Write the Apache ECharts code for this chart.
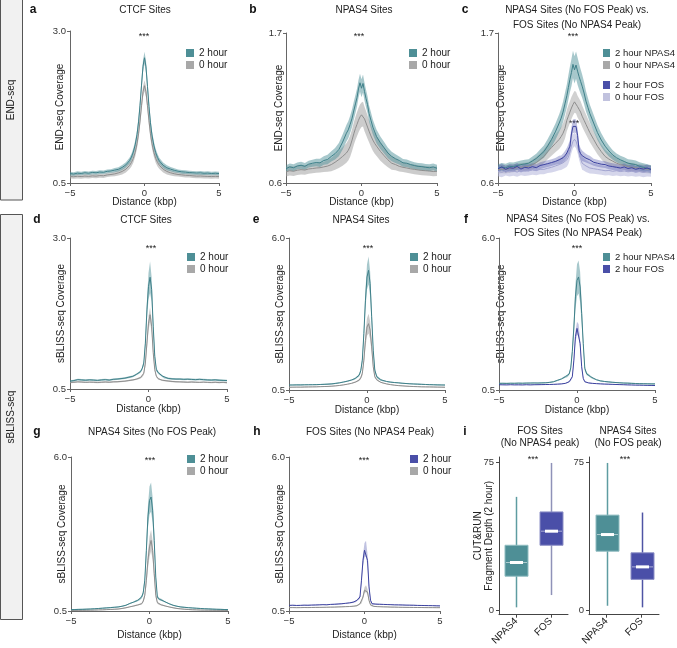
<!DOCTYPE html>
<html><head><meta charset="utf-8">
<script src="https://cdn.jsdelivr.net/npm/echarts@6/dist/echarts.min.js"></script>
<style>html,body{margin:0;padding:0;background:#fff}#c{width:677px;height:648px}</style>
</head><body><div id="c"></div>
<script>
// ---------- shared x positions (kbp) ----------
const X = [-5,-4.75,-4.5,-4.25,-4,-3.75,-3.5,-3.25,-3,-2.75,-2.5,-2.25,-2,-1.75,-1.5,-1.25,-1,
  -0.875,-0.75,-0.625,-0.5,-0.4,-0.3,-0.2,-0.1,0,0.1,0.2,0.3,0.4,0.5,0.625,0.75,0.875,
  1,1.25,1.5,1.75,2,2.25,2.5,2.75,3,3.25,3.5,3.75,4,4.25,4.5,4.75,5];
const X_TICKS = [-5, 0, 5];
const Y_TICKS_A = [0.5, 3.0], Y_TICKS_BC = [0.6, 1.7], Y_TICKS_D = [0.5, 3.0], Y_TICKS_EFGH = [0.5, 6.0];
const Y_TICKS_BOX = [0, 75];

// ---------- a: END-seq, CTCF ----------
const A_2H = [0.655,0.648,0.662,0.657,0.668,0.661,0.673,0.668,0.680,0.676,0.692,0.698,0.712,0.725,0.755,0.798,0.870,
  0.928,1.010,1.128,1.300,1.505,1.780,2.110,2.420,2.560,2.410,2.090,1.760,1.490,1.290,1.120,1.000,0.920,
  0.862,0.792,0.750,0.728,0.708,0.694,0.684,0.679,0.672,0.668,0.664,0.667,0.660,0.663,0.656,0.661,0.655];
const A_2H_SE = [0.03,0.03,0.03,0.03,0.03,0.03,0.03,0.03,0.03,0.03,0.03,0.03,0.035,0.035,0.04,0.045,0.05,
  0.055,0.06,0.065,0.07,0.08,0.09,0.1,0.1,0.1,0.1,0.1,0.09,0.08,0.07,0.065,0.06,0.055,
  0.05,0.045,0.04,0.035,0.035,0.03,0.03,0.03,0.03,0.03,0.03,0.03,0.03,0.03,0.03,0.03,0.03];
const A_0H = [0.607,0.603,0.611,0.606,0.614,0.609,0.617,0.613,0.622,0.619,0.633,0.640,0.650,0.667,0.690,0.727,0.790,
  0.838,0.905,1.005,1.150,1.310,1.520,1.770,2.000,2.100,2.000,1.775,1.525,1.310,1.150,1.005,0.905,0.838,
  0.790,0.727,0.690,0.668,0.652,0.640,0.634,0.627,0.624,0.618,0.613,0.615,0.611,0.608,0.606,0.609,0.605];
const A_0H_SE = [0.035,0.035,0.035,0.035,0.035,0.035,0.035,0.035,0.035,0.035,0.035,0.035,0.04,0.045,0.05,0.055,0.06,
  0.065,0.07,0.075,0.08,0.085,0.09,0.09,0.09,0.09,0.09,0.09,0.09,0.085,0.08,0.075,0.07,0.065,
  0.06,0.055,0.05,0.045,0.04,0.035,0.035,0.035,0.035,0.035,0.035,0.035,0.035,0.035,0.035,0.035,0.035];

// ---------- b: END-seq, NPAS4 ----------
const B_2H = [0.705,0.718,0.712,0.725,0.730,0.722,0.738,0.745,0.750,0.748,0.765,0.772,0.795,0.815,0.845,0.900,0.965,
  0.990,1.030,1.075,1.135,1.180,1.225,1.290,1.335,1.295,1.330,1.270,1.220,1.175,1.110,1.060,1.010,0.975,
  0.940,0.895,0.858,0.820,0.795,0.778,0.765,0.748,0.745,0.735,0.728,0.722,0.720,0.715,0.712,0.718,0.708];
const B_2H_SE = [0.025,0.025,0.025,0.025,0.025,0.025,0.025,0.025,0.028,0.03,0.032,0.035,0.038,0.042,0.048,0.055,0.06,
  0.062,0.064,0.065,0.066,0.066,0.066,0.066,0.066,0.066,0.066,0.066,0.064,0.062,0.06,0.058,0.055,0.052,
  0.05,0.046,0.042,0.038,0.035,0.032,0.03,0.028,0.027,0.026,0.025,0.025,0.025,0.025,0.025,0.025,0.025];
const B_0H = [0.683,0.690,0.686,0.694,0.698,0.695,0.703,0.706,0.710,0.712,0.718,0.724,0.735,0.752,0.772,0.795,0.820,
  0.840,0.870,0.915,0.965,1.000,1.030,1.060,1.085,1.100,1.105,1.070,1.040,1.010,0.980,0.945,0.915,0.890,
  0.870,0.832,0.800,0.770,0.745,0.735,0.722,0.715,0.710,0.704,0.700,0.696,0.692,0.690,0.688,0.684,0.686];
const B_0H_SE = [0.035,0.035,0.035,0.035,0.035,0.035,0.035,0.035,0.035,0.035,0.038,0.042,0.048,0.055,0.062,0.068,0.072,
  0.075,0.078,0.08,0.082,0.085,0.088,0.09,0.09,0.09,0.09,0.09,0.088,0.085,0.082,0.08,0.078,0.075,
  0.072,0.068,0.062,0.055,0.048,0.042,0.038,0.035,0.035,0.035,0.035,0.035,0.035,0.035,0.035,0.035,0.035];

// ---------- c: END-seq, NPAS4 (no FOS) vs FOS (no NPAS4) ----------
const C_2H_NPAS4 = [0.708,0.716,0.712,0.722,0.720,0.728,0.735,0.740,0.745,0.762,0.780,0.805,0.830,0.872,0.920,0.975,1.040,
  1.075,1.120,1.180,1.240,1.300,1.360,1.410,1.470,1.430,1.465,1.420,1.380,1.345,1.310,1.260,1.200,1.155,
  1.110,1.040,0.970,0.915,0.870,0.835,0.805,0.785,0.770,0.758,0.745,0.740,0.735,0.722,0.715,0.708,0.700];
const C_2H_NPAS4_SE = [0.03,0.03,0.03,0.03,0.03,0.03,0.03,0.03,0.03,0.032,0.035,0.04,0.045,0.05,0.055,0.06,0.065,
  0.07,0.075,0.08,0.085,0.09,0.095,0.1,0.1,0.1,0.1,0.1,0.095,0.09,0.085,0.08,0.075,0.07,
  0.065,0.06,0.055,0.05,0.045,0.04,0.035,0.032,0.03,0.03,0.03,0.03,0.03,0.03,0.03,0.03,0.03];
const C_0H_NPAS4 = [0.698,0.702,0.700,0.706,0.708,0.712,0.716,0.718,0.722,0.735,0.750,0.772,0.795,0.830,0.860,0.890,0.920,
  0.940,0.965,1.000,1.060,1.090,1.120,1.150,1.175,1.195,1.190,1.160,1.140,1.120,1.090,1.060,1.030,1.000,
  0.970,0.920,0.870,0.830,0.795,0.775,0.760,0.745,0.735,0.728,0.720,0.715,0.712,0.708,0.705,0.702,0.700];
const C_0H_NPAS4_SE = [0.03,0.03,0.03,0.03,0.03,0.03,0.03,0.03,0.03,0.035,0.04,0.045,0.05,0.055,0.06,0.065,0.07,
  0.072,0.074,0.076,0.078,0.08,0.08,0.08,0.08,0.08,0.08,0.08,0.08,0.08,0.078,0.076,0.074,0.072,
  0.07,0.065,0.06,0.055,0.05,0.045,0.04,0.035,0.03,0.03,0.03,0.03,0.03,0.03,0.03,0.03,0.03];
const C_2H_FOS = [0.705,0.718,0.700,0.712,0.708,0.722,0.702,0.715,0.710,0.720,0.712,0.728,0.735,0.742,0.750,0.758,0.770,
  0.772,0.785,0.800,0.820,0.845,0.870,0.960,1.015,1.020,1.015,0.950,0.840,0.815,0.800,0.790,0.782,0.775,
  0.770,0.752,0.745,0.738,0.735,0.725,0.720,0.715,0.710,0.718,0.706,0.712,0.700,0.708,0.702,0.710,0.700];
const C_2H_FOS_SE = [0.025,0.025,0.025,0.025,0.025,0.025,0.025,0.025,0.025,0.025,0.025,0.025,0.025,0.025,0.025,0.025,0.03,
  0.03,0.032,0.035,0.038,0.04,0.045,0.05,0.05,0.05,0.05,0.05,0.045,0.04,0.038,0.035,0.032,0.03,
  0.03,0.025,0.025,0.025,0.025,0.025,0.025,0.025,0.025,0.025,0.025,0.025,0.025,0.025,0.025,0.025,0.025];
const C_0H_FOS = [0.685,0.678,0.690,0.682,0.688,0.680,0.692,0.686,0.690,0.695,0.692,0.700,0.700,0.708,0.715,0.725,0.735,
  0.740,0.748,0.758,0.770,0.790,0.825,0.870,0.905,0.920,0.905,0.870,0.820,0.780,0.745,0.735,0.725,0.718,
  0.710,0.705,0.700,0.695,0.690,0.692,0.686,0.690,0.684,0.688,0.682,0.686,0.680,0.684,0.678,0.682,0.680];
const C_0H_FOS_SE = [0.035,0.035,0.035,0.035,0.035,0.035,0.035,0.035,0.035,0.035,0.035,0.035,0.035,0.035,0.038,0.04,0.042,
  0.044,0.046,0.048,0.05,0.05,0.05,0.05,0.05,0.05,0.05,0.05,0.05,0.05,0.048,0.046,0.044,0.042,
  0.04,0.038,0.035,0.035,0.035,0.035,0.035,0.035,0.035,0.035,0.035,0.035,0.035,0.035,0.035,0.035,0.035];

// ---------- d: sBLISS, CTCF ----------
const D_2H = [0.630,0.640,0.655,0.650,0.645,0.652,0.648,0.642,0.650,0.655,0.648,0.660,0.665,0.672,0.680,0.695,0.710,
  0.725,0.745,0.765,0.790,0.840,0.930,1.260,1.810,2.200,2.350,2.150,1.540,1.040,0.820,0.770,0.740,0.715,
  0.690,0.675,0.668,0.665,0.665,0.660,0.662,0.658,0.655,0.660,0.655,0.650,0.648,0.652,0.645,0.642,0.640];
const D_2H_SE = [0.015,0.015,0.015,0.015,0.015,0.015,0.015,0.015,0.015,0.015,0.015,0.015,0.015,0.015,0.015,0.015,0.015,
  0.015,0.015,0.018,0.02,0.025,0.04,0.08,0.15,0.22,0.26,0.2,0.12,0.06,0.03,0.02,0.018,0.015,
  0.015,0.015,0.015,0.015,0.015,0.015,0.015,0.015,0.015,0.015,0.015,0.015,0.015,0.015,0.015,0.015,0.015];
const D_0H = [0.608,0.612,0.618,0.615,0.610,0.614,0.612,0.608,0.612,0.616,0.612,0.618,0.620,0.625,0.630,0.640,0.650,
  0.655,0.665,0.675,0.690,0.715,0.760,0.930,1.260,1.590,1.730,1.540,1.100,0.820,0.710,0.670,0.655,0.645,
  0.640,0.632,0.625,0.620,0.618,0.615,0.612,0.616,0.612,0.610,0.614,0.610,0.608,0.612,0.606,0.610,0.605];
const D_0H_SE = [0.012,0.012,0.012,0.012,0.012,0.012,0.012,0.012,0.012,0.012,0.012,0.012,0.012,0.012,0.012,0.012,0.012,
  0.012,0.012,0.014,0.015,0.02,0.03,0.06,0.1,0.12,0.12,0.1,0.06,0.03,0.02,0.015,0.012,0.012,
  0.012,0.012,0.012,0.012,0.012,0.012,0.012,0.012,0.012,0.012,0.012,0.012,0.012,0.012,0.012,0.012,0.012];

// ---------- e: sBLISS, NPAS4 ----------
const E_2H = [0.680,0.682,0.685,0.684,0.688,0.690,0.692,0.695,0.700,0.705,0.712,0.722,0.740,0.760,0.790,0.820,0.860,
  0.880,0.920,0.970,1.040,1.200,1.580,2.550,3.750,4.590,4.830,4.350,3.150,1.940,1.220,0.980,0.920,0.870,
  0.840,0.810,0.785,0.770,0.760,0.745,0.735,0.725,0.718,0.712,0.705,0.700,0.695,0.690,0.686,0.683,0.680];
const E_2H_SE = [0.02,0.02,0.02,0.02,0.02,0.02,0.02,0.02,0.02,0.02,0.02,0.02,0.02,0.02,0.02,0.02,0.02,
  0.03,0.035,0.04,0.05,0.07,0.12,0.22,0.35,0.45,0.5,0.45,0.3,0.15,0.08,0.05,0.04,0.035,
  0.02,0.02,0.02,0.02,0.02,0.02,0.02,0.02,0.02,0.02,0.02,0.02,0.02,0.02,0.02,0.02,0.02];
const E_0H = [0.600,0.602,0.605,0.604,0.608,0.610,0.612,0.615,0.620,0.625,0.630,0.638,0.650,0.665,0.685,0.710,0.740,
  0.760,0.785,0.815,0.860,0.940,1.100,1.580,2.300,2.780,2.900,2.670,2.060,1.340,0.980,0.870,0.820,0.780,
  0.750,0.720,0.695,0.675,0.660,0.650,0.640,0.632,0.625,0.620,0.615,0.612,0.610,0.608,0.605,0.603,0.600];
const E_0H_SE = [0.015,0.015,0.015,0.015,0.015,0.015,0.015,0.015,0.015,0.015,0.015,0.015,0.015,0.015,0.015,0.015,0.015,
  0.02,0.025,0.03,0.035,0.05,0.08,0.15,0.25,0.32,0.36,0.32,0.22,0.1,0.05,0.03,0.025,0.02,
  0.015,0.015,0.015,0.015,0.015,0.015,0.015,0.015,0.015,0.015,0.015,0.015,0.015,0.015,0.015,0.015,0.015];

// ---------- f: sBLISS, NPAS4 (no FOS) vs FOS (no NPAS4) ----------
const F_2H_NPAS4 = [0.740,0.742,0.738,0.745,0.742,0.748,0.745,0.750,0.752,0.755,0.752,0.758,0.762,0.775,0.800,0.850,0.900,
  0.940,0.980,1.000,1.080,1.300,1.900,2.780,3.870,4.470,4.590,4.230,3.270,2.180,1.280,1.080,1.040,0.980,
  0.920,0.870,0.830,0.810,0.795,0.780,0.770,0.760,0.752,0.748,0.740,0.735,0.730,0.728,0.725,0.722,0.720];
const F_2H_NPAS4_SE = [0.02,0.02,0.02,0.02,0.02,0.02,0.02,0.02,0.02,0.02,0.02,0.02,0.02,0.02,0.02,0.02,0.02,
  0.03,0.035,0.04,0.05,0.08,0.15,0.28,0.45,0.58,0.6,0.55,0.38,0.2,0.08,0.05,0.04,0.035,
  0.02,0.02,0.02,0.02,0.02,0.02,0.02,0.02,0.02,0.02,0.02,0.02,0.02,0.02,0.02,0.02,0.02];
const F_2H_FOS = [0.690,0.688,0.685,0.690,0.686,0.688,0.684,0.690,0.686,0.690,0.692,0.695,0.698,0.700,0.705,0.712,0.720,
  0.728,0.740,0.760,0.800,0.860,0.980,1.580,2.430,2.730,2.670,2.180,1.340,0.920,0.800,0.770,0.755,0.745,
  0.740,0.730,0.722,0.715,0.710,0.705,0.700,0.695,0.690,0.685,0.682,0.678,0.675,0.672,0.668,0.665,0.662];
const F_2H_FOS_SE = [0.012,0.012,0.012,0.012,0.012,0.012,0.012,0.012,0.012,0.012,0.012,0.012,0.012,0.012,0.012,0.012,0.012,
  0.015,0.015,0.018,0.02,0.03,0.05,0.1,0.18,0.24,0.22,0.16,0.08,0.04,0.02,0.018,0.015,0.015,
  0.012,0.012,0.012,0.012,0.012,0.012,0.012,0.012,0.012,0.012,0.012,0.012,0.012,0.012,0.012,0.012,0.012];

// ---------- g: sBLISS, NPAS4 (no FOS peak) ----------
const G_2H = [0.548,0.552,0.556,0.560,0.565,0.572,0.580,0.590,0.600,0.610,0.620,0.632,0.645,0.670,0.705,0.770,0.820,
  0.850,0.880,0.920,1.000,1.150,1.600,2.670,3.860,4.450,4.570,4.100,3.020,1.710,1.000,0.920,0.900,0.860,
  0.820,0.760,0.705,0.670,0.645,0.630,0.618,0.608,0.598,0.590,0.582,0.575,0.568,0.562,0.558,0.554,0.550];
const G_2H_SE = [0.02,0.02,0.02,0.02,0.02,0.02,0.02,0.02,0.02,0.02,0.02,0.02,0.02,0.02,0.02,0.02,0.02,
  0.03,0.035,0.04,0.05,0.08,0.15,0.28,0.4,0.5,0.52,0.45,0.32,0.15,0.06,0.04,0.035,0.03,
  0.02,0.02,0.02,0.02,0.02,0.02,0.02,0.02,0.02,0.02,0.02,0.02,0.02,0.02,0.02,0.02,0.02];
const G_0H = [0.520,0.522,0.524,0.526,0.528,0.530,0.534,0.538,0.542,0.548,0.555,0.562,0.570,0.590,0.615,0.650,0.680,
  0.700,0.715,0.735,0.760,0.850,1.060,1.600,2.310,2.790,3.020,2.670,1.830,1.060,0.800,0.740,0.720,0.700,
  0.680,0.645,0.615,0.590,0.575,0.562,0.552,0.545,0.540,0.535,0.532,0.530,0.528,0.526,0.524,0.522,0.520];
const G_0H_SE = [0.015,0.015,0.015,0.015,0.015,0.015,0.015,0.015,0.015,0.015,0.015,0.015,0.015,0.015,0.015,0.015,0.015,
  0.02,0.02,0.025,0.03,0.05,0.1,0.2,0.3,0.36,0.38,0.33,0.22,0.1,0.04,0.025,0.02,0.02,
  0.015,0.015,0.015,0.015,0.015,0.015,0.015,0.015,0.015,0.015,0.015,0.015,0.015,0.015,0.015,0.015,0.015];

// ---------- h: sBLISS, FOS (no NPAS4 peak) ----------
const H_2H = [0.700,0.705,0.698,0.702,0.708,0.705,0.712,0.715,0.720,0.725,0.722,0.735,0.740,0.750,0.760,0.775,0.790,
  0.800,0.815,0.830,0.880,0.930,1.000,1.600,2.310,2.670,2.730,2.310,1.360,0.880,0.760,0.750,0.745,0.742,
  0.740,0.735,0.730,0.725,0.720,0.718,0.715,0.710,0.708,0.705,0.700,0.698,0.695,0.692,0.690,0.686,0.682];
const H_2H_SE = [0.015,0.015,0.015,0.015,0.015,0.015,0.015,0.015,0.015,0.015,0.015,0.015,0.015,0.015,0.015,0.015,0.015,
  0.02,0.02,0.025,0.03,0.04,0.06,0.12,0.2,0.26,0.28,0.22,0.12,0.05,0.025,0.02,0.02,0.02,
  0.015,0.015,0.015,0.015,0.015,0.015,0.015,0.015,0.015,0.015,0.015,0.015,0.015,0.015,0.015,0.015,0.015];
const H_0H = [0.620,0.622,0.618,0.620,0.624,0.622,0.625,0.628,0.630,0.632,0.635,0.638,0.640,0.645,0.650,0.655,0.660,
  0.665,0.670,0.675,0.690,0.720,0.760,0.820,1.000,1.240,1.300,1.180,0.880,0.720,0.680,0.665,0.660,0.655,
  0.652,0.648,0.645,0.640,0.638,0.635,0.632,0.630,0.628,0.626,0.625,0.624,0.622,0.620,0.620,0.618,0.618];
const H_0H_SE = [0.012,0.012,0.012,0.012,0.012,0.012,0.012,0.012,0.012,0.012,0.012,0.012,0.012,0.012,0.012,0.012,0.012,
  0.015,0.015,0.015,0.02,0.025,0.03,0.05,0.08,0.11,0.12,0.1,0.06,0.03,0.02,0.015,0.015,0.015,
  0.012,0.012,0.012,0.012,0.012,0.012,0.012,0.012,0.012,0.012,0.012,0.012,0.012,0.012,0.012,0.012,0.012];

// ---------- i: CUT&RUN box plots [min, q1, median, q3, max] ----------
const BOX_CATS = ['NPAS4', 'FOS'];
const BOX_FOS_SITES = [[1.7, 17.4, 24.3, 33.0, 57.4], [7.9, 33.0, 40.1, 49.8, 74.5]];
const BOX_NPAS4_SITES = [[2.5, 30.0, 38.4, 48.2, 74.5], [1.7, 15.8, 22.1, 29.2, 49.5]];

// ---------- styling ----------
const FF = "'Liberation Sans', Arial, Helvetica, sans-serif";
const FS = 10;
const TEAL = '#3f8089', TEAL_B = '#4f9199', TEAL_L = '#4e8f96';
const GREY = '#8e8e8e', GREY_B = '#a3a3a3', GREY_L = '#a8a8a8';
const BLUE = '#3d43a0', BLUE_B = '#4a50a8', BLUE_L = '#4a4fa8';
const LAV = '#a2a4d0', LAV_B = '#b3b4da', LAV_L = '#c1c2de';
const AX = '#666';

const grids = [
  {left:70, top:31, width:149, height:152},
  {left:286, top:33, width:151, height:150},
  {left:498, top:33, width:153, height:150},
  {left:70, top:238, width:157, height:151},
  {left:289, top:238, width:156, height:152},
  {left:499, top:238, width:156, height:152},
  {left:71, top:457, width:157, height:154},
  {left:289, top:457, width:151, height:154},
  {left:499, top:457, width:69, height:158},
  {left:589, top:457, width:70, height:158}
];

const xAxes = [], yAxes = [];
function lineAxes(g, yt, yname, yGap, xGap) {
  xAxes.push({gridIndex:g, type:'value', min:-5, max:5,
    axisLine:{show:true, onZero:false, lineStyle:{color:AX, width:1}},
    axisTick:{show:true, length:3, customValues:X_TICKS, lineStyle:{color:AX}},
    axisLabel:{show:true, customValues:X_TICKS, fontSize:9.5, color:'#333', fontFamily:FF, margin:5,
      formatter: v => (v < 0 ? '\u2212' + Math.abs(v) : String(v))},
    splitLine:{show:false},
    name:'Distance (kbp)', nameLocation:'middle', nameGap:xGap, nameMoveOverlap:false,
    nameTextStyle:{fontSize:FS, color:'#222', fontFamily:FF}});
  yAxes.push({gridIndex:g, type:'value', min:yt[0], max:yt[1],
    axisLine:{show:true, onZero:false, lineStyle:{color:AX, width:1}},
    axisTick:{show:true, length:3, customValues:yt, lineStyle:{color:AX}},
    axisLabel:{show:true, customValues:yt, fontSize:9.5, color:'#333', fontFamily:FF, margin:4,
      formatter: v => v.toFixed(1)},
    splitLine:{show:false},
    name:yname, nameLocation:'middle', nameGap:yGap, nameMoveOverlap:false,
    nameTextStyle:{fontSize:FS, color:'#222', fontFamily:FF}});
}
lineAxes(0, Y_TICKS_A, 'END-seq Coverage', 5, 14);
lineAxes(1, Y_TICKS_BC, 'END-seq Coverage', 2, 14);
lineAxes(2, Y_TICKS_BC, 'END-seq Coverage', -8, 14);
lineAxes(3, Y_TICKS_D, 'sBLISS-seq Coverage', 4, 15);
lineAxes(4, Y_TICKS_EFGH, 'sBLISS-seq Coverage', 4, 15);
lineAxes(5, Y_TICKS_EFGH, 'sBLISS-seq Coverage', -7, 15);
lineAxes(6, Y_TICKS_EFGH, 'sBLISS-seq Coverage', 4, 19);
lineAxes(7, Y_TICKS_EFGH, 'sBLISS-seq Coverage', 4, 19);

function boxAxes(g, yname) {
  xAxes.push({gridIndex:g, type:'category', data:BOX_CATS, boundaryGap:true,
    axisLine:{show:true, onZero:false, lineStyle:{color:'#444'}},
    axisTick:{show:true, length:3, alignWithLabel:true, lineStyle:{color:'#444'}},
    axisLabel:{rotate:45, fontSize:FS, color:'#222', fontFamily:FF, margin:5}});
  yAxes.push({gridIndex:g, type:'value', min:-2, max:77.5,
    axisLine:{show:true, onZero:false, lineStyle:{color:'#444'}},
    axisTick:{show:true, length:3, customValues:Y_TICKS_BOX, lineStyle:{color:'#444'}},
    axisLabel:{show:true, customValues:Y_TICKS_BOX, fontSize:9.5, color:'#333', fontFamily:FF, margin:5},
    splitLine:{show:false},
    name:yname, nameLocation:'middle', nameGap:4, nameMoveOverlap:false,
    nameTextStyle:{fontSize:FS, color:'#222', fontFamily:FF, lineHeight:11}});
}
boxAxes(8, 'CUT&RUN\nFragment Depth (2 hour)');
boxAxes(9, '');

const series = [];
function addBand(g, mean, se, color, op) {
  const lo = mean.map((v, i) => v - se[i]);
  const hi = mean.map((v, i) => v + se[i]);
  series.push({type:'custom', xAxisIndex:g, yAxisIndex:g, silent:true, z:2, clip:true,
    encode:{x:0, y:[1, 2]},
    data: X.map((x, i) => [x, lo[i], hi[i]]),
    renderItem(params, api) {
      if (params.dataIndex !== 0) return null;
      const pts = [];
      for (let i = 0; i < X.length; i++) pts.push(api.coord([X[i], hi[i]]));
      for (let i = X.length - 1; i >= 0; i--) pts.push(api.coord([X[i], lo[i]]));
      return {type:'polygon', shape:{points:pts}, style:{fill:color, opacity:op}};
    }});
}
function addLine(g, name, mean, color) {
  series.push({type:'line', name, xAxisIndex:g, yAxisIndex:g, z:3, silent:true,
    data: X.map((x, i) => [x, mean[i]]), showSymbol:false, symbol:'none',
    lineStyle:{color, width:1}, itemStyle:{color}});
}
// a
addBand(0, A_0H, A_0H_SE, GREY_B, 0.55); addBand(0, A_2H, A_2H_SE, TEAL_B, 0.5);
addLine(0, '0 hour', A_0H, GREY); addLine(0, '2 hour', A_2H, TEAL);
// b
addBand(1, B_0H, B_0H_SE, GREY_B, 0.55); addBand(1, B_2H, B_2H_SE, TEAL_B, 0.5);
addLine(1, '0 hour', B_0H, GREY); addLine(1, '2 hour', B_2H, TEAL);
// c
addBand(2, C_0H_NPAS4, C_0H_NPAS4_SE, GREY_B, 0.5); addBand(2, C_2H_NPAS4, C_2H_NPAS4_SE, TEAL_B, 0.5);
addBand(2, C_0H_FOS, C_0H_FOS_SE, LAV_B, 0.55); addBand(2, C_2H_FOS, C_2H_FOS_SE, BLUE_B, 0.35);
addLine(2, '0 hour NPAS4', C_0H_NPAS4, GREY); addLine(2, '2 hour NPAS4', C_2H_NPAS4, TEAL);
addLine(2, '0 hour FOS', C_0H_FOS, LAV); addLine(2, '2 hour FOS', C_2H_FOS, BLUE);
// d
addBand(3, D_0H, D_0H_SE, GREY_B, 0.55); addBand(3, D_2H, D_2H_SE, TEAL_B, 0.5);
addLine(3, '0 hour', D_0H, GREY); addLine(3, '2 hour', D_2H, TEAL);
// e
addBand(4, E_0H, E_0H_SE, GREY_B, 0.55); addBand(4, E_2H, E_2H_SE, TEAL_B, 0.5);
addLine(4, '0 hour', E_0H, GREY); addLine(4, '2 hour', E_2H, TEAL);
// f
addBand(5, F_2H_FOS, F_2H_FOS_SE, BLUE_B, 0.35); addBand(5, F_2H_NPAS4, F_2H_NPAS4_SE, TEAL_B, 0.5);
addLine(5, '2 hour FOS', F_2H_FOS, BLUE); addLine(5, '2 hour NPAS4', F_2H_NPAS4, TEAL);
// g
addBand(6, G_0H, G_0H_SE, GREY_B, 0.55); addBand(6, G_2H, G_2H_SE, TEAL_B, 0.5);
addLine(6, '0 hour', G_0H, GREY); addLine(6, '2 hour', G_2H, TEAL);
// h
addBand(7, H_0H, H_0H_SE, GREY_B, 0.55); addBand(7, H_2H, H_2H_SE, BLUE_B, 0.35);
addLine(7, '0 hour', H_0H, GREY); addLine(7, '2 hour', H_2H, BLUE);

// i: box plots
function addBox(g, rows, fills, borders, whiskers) {
  series.push({type:'custom', xAxisIndex:g, yAxisIndex:g, silent:true, z:3,
    encode:{x:0, y:[1, 2, 3, 4, 5]},
    data: rows.map((r, i) => [i, r[0], r[1], r[2], r[3], r[4]]),
    renderItem(params, api) {
      const i = api.value(0);
      const pMin = api.coord([i, api.value(1)]), pQ1 = api.coord([i, api.value(2)]);
      const pMed = api.coord([i, api.value(3)]), pQ3 = api.coord([i, api.value(4)]);
      const pMax = api.coord([i, api.value(5)]);
      const w = 23, cx = Math.round(pMin[0]) + 0.5;
      return {type:'group', children:[
        {type:'line', shape:{x1:cx, y1:pMin[1], x2:cx, y2:pMax[1]}, style:{stroke:whiskers[i], lineWidth:1.5}},
        {type:'rect', shape:{x:cx - w/2, y:pQ3[1], width:w, height:pQ1[1] - pQ3[1]},
          style:{fill:fills[i], stroke:borders[i], lineWidth:1}},
        {type:'line', shape:{x1:cx - w/2 + 1, y1:pMed[1], x2:cx + w/2 - 1, y2:pMed[1]},
          style:{stroke:'rgba(255,255,255,0.55)', lineWidth:1}},
        {type:'rect', shape:{x:cx - 6.5, y:pMed[1] - 1.5, width:13, height:3}, style:{fill:'#ffffff'}}
      ]};
    }});
}
addBox(8, BOX_FOS_SITES, ['#4e8f96', '#4a4fa8'], ['#8fbcc0', '#8d90c6'], ['#5e9ca1', '#8f92b8']);
addBox(9, BOX_NPAS4_SITES, ['#4e8f96', '#4a4fa8'], ['#8fbcc0', '#8d90c6'], ['#5e9ca1', '#4f54a4']);

// legends
const LEG = {orient:'vertical', icon:'rect', itemWidth:8, itemHeight:8, itemGap:2, padding:0,
  selectedMode:false, textStyle:{fontSize:FS, color:'#222', fontFamily:FF, lineHeight:10}};
const LEGS = {orient:'vertical', icon:'rect', itemWidth:7, itemHeight:8, itemGap:2, padding:0,
  selectedMode:false, textStyle:{fontSize:9.5, color:'#222', fontFamily:FF, lineHeight:10}};
const L2 = (c) => ({name:'2 hour', itemStyle:{color:c}});
const L0 = {name:'0 hour', itemStyle:{color:GREY_L}};
const legends = [
  {...LEG, left:186, top:48, data:[L2(TEAL_L), L0]},
  {...LEG, left:409, top:48, data:[L2(TEAL_L), L0]},
  {...LEGS, left:603, top:48, data:[{name:'2 hour NPAS4', itemStyle:{color:TEAL_L}}, {name:'0 hour NPAS4', itemStyle:{color:GREY_L}}]},
  {...LEGS, left:603, top:80, data:[{name:'2 hour FOS', itemStyle:{color:BLUE_L}}, {name:'0 hour FOS', itemStyle:{color:LAV_L}}]},
  {...LEG, left:187, top:252, data:[L2(TEAL_L), L0]},
  {...LEG, left:410, top:252, data:[L2(TEAL_L), L0]},
  {...LEGS, left:603, top:252, data:[{name:'2 hour NPAS4', itemStyle:{color:TEAL_L}}, {name:'2 hour FOS', itemStyle:{color:BLUE_L}}]},
  {...LEG, left:187, top:454, data:[L2(TEAL_L), L0]},
  {...LEG, left:410, top:454, data:[L2(BLUE_L), L0]}
];

// text annotations
function T(text, x, y, o) {
  return Object.assign({type:'text', x, y, silent:true,
    style:{text, fontSize:FS, fontFamily:FF, fill:'#222', align:'center', verticalAlign:'middle'}}, o || {});
}
function B(text, x, y) { return T(text, x, y, {style:{text, fontSize:12, fontWeight:'bold', fontFamily:FF, fill:'#111', align:'center', verticalAlign:'middle'}}); }
function S(x, y) { return T('***', x, y + 2, {style:{text:'***', fontSize:9, fontFamily:FF, fill:'#222', align:'center', verticalAlign:'middle'}}); }
const graphics = [
  {type:'rect', shape:{x:0.5, y:-1, width:22, height:201}, style:{fill:'#f1f1f1', stroke:'#555', lineWidth:1}, silent:true},
  {type:'rect', shape:{x:0.5, y:214.5, width:22, height:405}, style:{fill:'#f1f1f1', stroke:'#555', lineWidth:1}, silent:true},
  T('END-seq', 11.5, 100, {rotation:Math.PI / 2}),
  T('sBLISS-seq', 11.5, 417, {rotation:Math.PI / 2}),
  B('a', 33, 10), B('b', 253, 10), B('c', 465, 10),
  B('d', 37, 220), B('e', 256, 220), B('f', 466, 220),
  B('g', 37, 432), B('h', 257, 432), B('i', 465, 432),
  T('CTCF Sites', 145, 10), T('NPAS4 Sites', 364, 10),
  T('NPAS4 Sites (No FOS Peak) vs.', 577, 10), T('FOS Sites (No NPAS4 Peak)', 577, 25),
  T('CTCF Sites', 146, 220), T('NPAS4 Sites', 361, 220),
  T('NPAS4 Sites (No FOS Peak) vs.', 578, 219), T('FOS Sites (No NPAS4 Peak)', 578, 233),
  T('NPAS4 Sites (No FOS Peak)', 152, 432), T('FOS Sites (No NPAS4 Peak)', 370, 432),
  T('FOS Sites', 540, 431), T('(No NPAS4 peak)', 540, 443),
  T('NPAS4 Sites', 628, 431), T('(No FOS peak)', 628, 443),
  S(144, 35), S(359, 35), S(573, 35), S(574, 122),
  S(151, 247), S(368, 247), S(577, 247),
  S(150, 459), S(364, 459), S(533, 458), S(625, 458)
];

const chart = echarts.init(document.getElementById('c'), null, {renderer:'canvas', width:677, height:648});
chart.setOption({
  animation:false,
  backgroundColor:'#ffffff',
  textStyle:{fontFamily:FF},
  grid: grids,
  xAxis: xAxes,
  yAxis: yAxes,
  legend: legends,
  series,
  graphic: graphics
});
</script>
</body></html>
